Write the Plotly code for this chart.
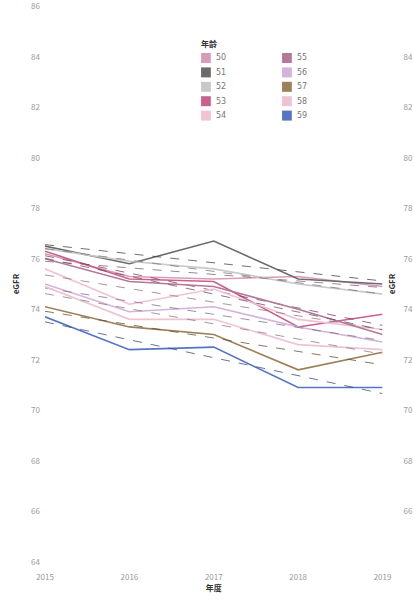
import numpy as np
import plotly.graph_objects as go
from plotly.subplots import make_subplots

years = [2015, 2016, 2017, 2018, 2019]
ages = ["50", "51", "52", "53", "54", "55", "56", "57", "58", "59"]
egfr_50 = [76.2, 75.3, 75.2, 75.3, 74.9]
egfr_51 = [76.5, 75.8, 76.7, 75.2, 75.0]
egfr_52 = [76.4, 75.9, 75.6, 75.0, 74.6]
egfr_53 = [76.3, 75.2, 75.1, 73.3, 73.8]
egfr_54 = [75.6, 74.2, 74.8, 73.6, 73.2]
egfr_55 = [76.0, 75.1, 74.9, 74.0, 73.0]
egfr_56 = [75.0, 73.9, 74.1, 73.3, 72.7]
egfr_57 = [74.1, 73.3, 73.0, 71.6, 72.3]
egfr_58 = [74.9, 73.6, 73.6, 72.6, 72.4]
egfr_59 = [73.7, 72.4, 72.5, 70.9, 70.9]
series = [egfr_50, egfr_51, egfr_52, egfr_53, egfr_54,
          egfr_55, egfr_56, egfr_57, egfr_58, egfr_59]
colors = ["#d89cba", "#6b6b6b", "#c9c9c9", "#c8628c", "#f2c2d4",
          "#b47898", "#d4b2dc", "#9c8058", "#eec4d4", "#5575c4"]
y_ticks = [64, 66, 68, 70, 72, 74, 76, 78, 80, 82, 84, 86]


def darken(hexc, f=0.6):
    r, g, b = int(hexc[1:3], 16), int(hexc[3:5], 16), int(hexc[5:7], 16)
    return f"rgb({int(r*f)},{int(g*f)},{int(b*f)})"


fig = make_subplots(rows=1, cols=2)
W, H = 413, 605
ml, mr, mt, mb = 45, 0, 6, 43
pw, ph = W - ml - mr, H - mt - mb
d1 = 346 / pw
d2 = 0.985

xs = np.array(years, dtype=float)
for name, vals, col in zip(ages, series, colors):
    fig.add_trace(go.Scatter(x=years, y=vals, mode="lines", name=name,
                             line=dict(color=col, width=1.6), showlegend=False),
                  row=1, col=1)
    k, b0 = np.polyfit(xs, np.array(vals), 1)
    fx = [years[0], years[-1]]
    fig.add_trace(go.Scatter(x=fx, y=[k * v + b0 for v in fx], mode="lines",
                             line=dict(color=darken(col), width=1, dash="dash"),
                             opacity=0.75, showlegend=False, hoverinfo="skip"),
                  row=1, col=1)
# second facet lies beyond the visible window; keep its axes drawn
fig.add_trace(go.Scatter(x=[None], y=[None], mode="lines", showlegend=False,
                         hoverinfo="skip"), row=1, col=2)

axis_font = dict(family="Noto Sans CJK SC, DejaVu Sans", size=8, color="#9a9a9a")
title_font = dict(family="Noto Sans CJK SC, DejaVu Sans", size=8, color="#333333")

fig.update_xaxes(domain=[0, d1], row=1, col=1, tickvals=years,
                 ticktext=[str(y) for y in years], range=[years[0], years[-1]],
                 showgrid=False, zeroline=False, showline=False,
                 ticklabelstandoff=9, tickfont=axis_font,
                 title=dict(text="<b>年度</b>", font=title_font, standoff=3))
fig.update_xaxes(domain=[d2, 1], row=1, col=2, range=[years[0], years[-1]],
                 showgrid=False, zeroline=False, showline=False,
                 showticklabels=False)
fig.update_yaxes(row=1, col=1, range=[63.99, 86.01], tickvals=y_ticks,
                 showgrid=False, zeroline=False, showline=False,
                 tickfont=axis_font, ticks="", ticklabelstandoff=4,
                 title=dict(text="<b>eGFR</b>", font=title_font, standoff=10))
fig.update_yaxes(row=1, col=2, range=[63.99, 86.01], tickvals=y_ticks,
                 showgrid=False, zeroline=False, showline=False, showticklabels=True,
                 ticklabelposition="inside",
                 tickfont=axis_font, ticks="", ticklabelstandoff=2,
                 title=dict(text="<b>eGFR</b>", font=title_font, standoff=6))

# custom legend (two columns)
leg_x0 = (205 - ml) / pw
leg_dx = (288 - 205) / pw
sw = 10 / pw
sh = 10 / ph
def py(p):
    return 1 - (p - mt) / ph

fig.add_annotation(x=leg_x0 - 2 / pw, y=py(43), xref="paper", yref="paper",
                   text="<b>年龄</b>", showarrow=False, xanchor="left", yanchor="middle",
                   font=dict(family="Noto Sans CJK SC", size=8, color="#333333"))
for i, (name, col) in enumerate(zip(ages, colors)):
    c, r = divmod(i, 5)
    x0 = leg_x0 + c * leg_dx
    yc = py(58 + r * 14.4)
    fig.add_shape(type="rect", xref="paper", yref="paper",
                  x0=x0, x1=x0 + sw, y0=yc - sh / 2, y1=yc + sh / 2,
                  fillcolor=col, line=dict(width=0))
    fig.add_annotation(x=x0 + sw + 3 / pw, y=yc, xref="paper", yref="paper",
                       text=name, showarrow=False, xanchor="left", yanchor="middle",
                       font=dict(family="DejaVu Sans", size=8, color="#777777"))

fig.update_layout(width=W, height=H, margin=dict(l=ml, r=mr, t=mt, b=mb),
                  plot_bgcolor="white", paper_bgcolor="white", showlegend=False)
fig.write_html("out.html")
